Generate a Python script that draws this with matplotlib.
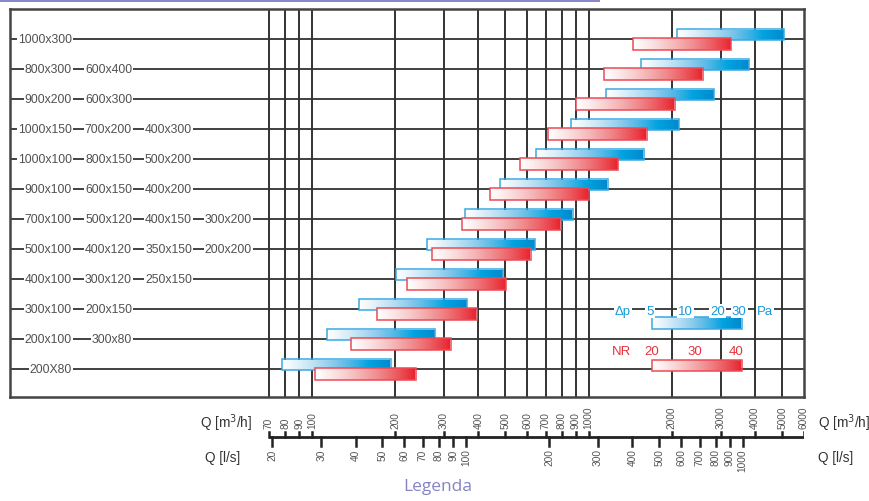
import numpy as np
import matplotlib
matplotlib.use("Agg")
import matplotlib.pyplot as plt
from matplotlib.colors import LinearSegmentedColormap
from matplotlib.patches import Rectangle

plt.rcParams['font.family'] = ['Liberation Sans', 'DejaVu Sans']

# duct sizes per row (bottom row first)
row_labels = [
    ["200X80"],
    ["200x100", "300x80"],
    ["300x100", "200x150"],
    ["400x100", "300x120", "250x150"],
    ["500x100", "400x120", "350x150", "200x200"],
    ["700x100", "500x120", "400x150", "300x200"],
    ["900x100", "600x150", "400x200"],
    ["1000x100", "800x150", "500x200"],
    ["1000x150", "700x200", "400x300"],
    ["900x200", "600x300"],
    ["800x300", "600x400"],
    ["1000x300"],
]

# airflow ranges in m3/h: pressure drop (5-30 Pa) and noise (NR 20-40)
dp_lo = [78, 113, 148, 201, 261, 357, 478, 645, 863, 1155, 1545, 2080]
dp_hi = [193, 279, 364, 491, 641, 875, 1171, 1583, 2120, 2842, 3805, 5100]
nr_lo = [103, 139, 172, 220, 272, 349, 442, 565, 715, 900, 1139, 1442]
nr_hi = [238, 318, 394, 503, 619, 794, 1005, 1280, 1620, 2050, 2595, 3280]

# legend bars
leg_lo, leg_hi = 1690, 3570
dp_leg_ticks = [5, 10, 20, 30]
dp_leg_x = [1665, 2245, 2930, 3500]
nr_leg_ticks = [20, 30, 40]
nr_leg_x = [1690, 2422, 3409]

q_m3h = [70, 80, 90, 100, 200, 300, 400, 500, 600, 700, 800, 900,
         1000, 2000, 3000, 4000, 5000, 6000]
q_ls = [20, 30, 40, 50, 60, 70, 80, 90, 100, 200, 300, 400, 500, 600,
        700, 800, 900, 1000]

blue = '#1a9ad8'
red = '#e8323c'
cm_blue = LinearSegmentedColormap.from_list(
    'b', [(0, '#ffffff'), (0.4, '#7cc4ea'), (0.72, '#00a2e0'), (1, '#0088cc')])
cm_red = LinearSegmentedColormap.from_list(
    'r', [(0, '#ffffff'), (0.45, '#f19a9c'), (1, '#e8202a')])
grad = np.linspace(0, 1, 256).reshape(1, -1)

W, H = 870, 502
fig = plt.figure(figsize=(W / 100, H / 100), dpi=100)

ax = fig.add_axes([10 / W, (H - 398) / H, 794 / W, 388 / H])
ax.set_xscale('log')
ax.set_xlim(8.12, 6000)
ax.set_ylim(-0.933, 12)
ax.set_xticks([])
ax.set_yticks([])
ax.minorticks_off()
for s in ax.spines.values():
    s.set_color('#444444')
    s.set_linewidth(1.8)

for q in q_m3h[:-1]:
    ax.axvline(q, color='#333333', lw=1.4, zorder=1)
for i in range(len(row_labels)):
    ax.axhline(i, color='#333333', lw=1.3, zorder=1)

cols = [0.0781, 0.1537, 0.2292, 0.3048]
ytr = ax.get_yaxis_transform()
for i, labs in enumerate(row_labels):
    for j, lab in enumerate(labs):
        ax.text(cols[j], i, lab, transform=ytr, ha='right', va='center',
                fontsize=8.8, color='#505050', zorder=6,
                bbox=dict(boxstyle='square,pad=0.1', fc='white', ec='none'))


def gbar(x0, x1, y0, y1, cmap, edge, z):
    ax.imshow(grad, cmap=cmap, extent=(x0, x1, y0, y1), aspect='auto',
              interpolation='bilinear', zorder=z)
    ax.add_patch(Rectangle((x0, y0), x1 - x0, y1 - y0, fill=False,
                           ec=edge, lw=1.1, zorder=z + 0.1))


for i in range(len(row_labels)):
    gbar(dp_lo[i], dp_hi[i], i - 0.033, i + 0.333, cm_blue, '#3aa8e0', 3)
    gbar(nr_lo[i], nr_hi[i], i - 0.367, i + 0.033, cm_red, '#ee4a55', 4)

# legend
gbar(leg_lo, leg_hi, 1.333, 1.733, cm_blue, '#3aa8e0', 3)
gbar(leg_lo, leg_hi, -0.057, 0.31, cm_red, '#ee4a55', 4)
tb = dict(boxstyle='square,pad=0.08', fc='white', ec='none')
ax.text(1330, 1.94, 'Δp', color=blue, fontsize=9.5, ha='center', va='center',
        zorder=6, bbox=tb)
for t, x in zip(dp_leg_ticks, dp_leg_x):
    ax.text(x, 1.94, str(t), color=blue, fontsize=9.5, ha='center',
            va='center', zorder=6, bbox=tb)
ax.text(4330, 1.94, 'Pa', color=blue, fontsize=9.5, ha='center', va='center',
        zorder=6, bbox=tb)
ax.text(1316, 0.61, 'NR', color=red, fontsize=9.5, ha='center', va='center',
        zorder=6, bbox=tb)
for t, x in zip(nr_leg_ticks, nr_leg_x):
    ax.text(x, 0.61, str(t), color=red, fontsize=9.5, ha='center',
            va='center', zorder=6, bbox=tb)

# flow scales below the chart
axq = fig.add_axes([10 / W, (H - 480) / H, 794 / W, 80 / H])
axq.set_xscale('log')
axq.set_xlim(8.12, 6000)
axq.set_ylim(480, 400)
axq.axis('off')
axq.plot([70, 6000], [438, 438], color='#222222', lw=2, solid_capstyle='butt')
for q in q_m3h:
    axq.plot([q, q], [433, 438], color='#222222', lw=1.8)
    axq.text(q, 429, str(q), rotation=90, ha='center', va='bottom',
             fontsize=7.3, color='#555555')
for q in q_ls:
    axq.plot([q * 3.6, q * 3.6], [438, 446.5], color='#222222', lw=1.8)
    axq.text(q * 3.6, 449.5, str(q), rotation=90, ha='center', va='top',
             fontsize=7.3, color='#555555')
qtr = axq.get_yaxis_transform()
axq.text(0.3048, 423, 'Q [m$^3$/h]', transform=qtr, ha='right', va='center',
         fontsize=9.8, color='#333333')
axq.text(1.0176, 423, 'Q [m$^3$/h]', transform=qtr, ha='left', va='center',
         fontsize=9.8, color='#333333')
axq.text(0.2897, 458, 'Q [l/s]', transform=qtr, ha='right', va='center',
         fontsize=9.8, color='#333333')
axq.text(1.0176, 458, 'Q [l/s]', transform=qtr, ha='left', va='center',
         fontsize=9.8, color='#333333')

fig.text(438 / W, 1 - 487 / H, 'Legenda', ha='center', va='center',
         fontsize=12.5, color='#8484c4', family='Open Sans')
fig.patches.append(Rectangle((0, 1 - 2.5 / H), 600 / W, 2.5 / H,
                             transform=fig.transFigure, fc='#8a87c8',
                             ec='none'))

fig.savefig('out.png', dpi=100)
